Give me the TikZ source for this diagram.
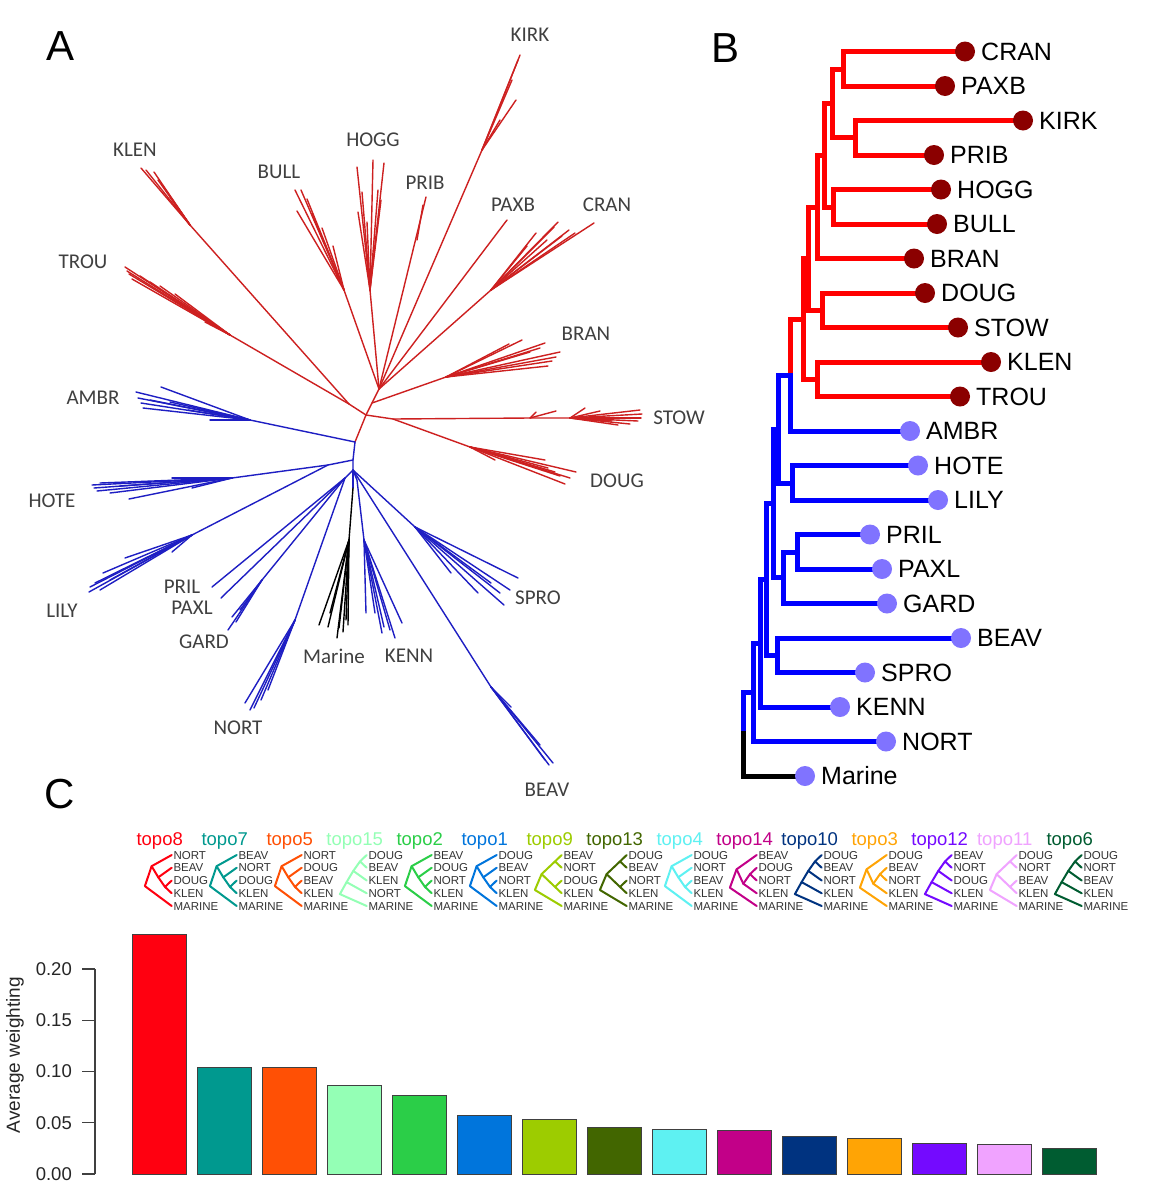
\documentclass[tikz,border=0pt]{standalone}
\usepackage{fontspec}
\usetikzlibrary{calc}
\setmainfont{Liberation Sans}
\newfontfamily\calib{Carlito}
\definecolor{ared}{RGB}{205,32,32}
\definecolor{ablue}{RGB}{30,30,195}
\definecolor{bred}{RGB}{255,0,0}
\definecolor{bblue}{RGB}{0,0,255}
\definecolor{dotred}{RGB}{139,0,0}
\definecolor{dotblue}{RGB}{128,115,255}
\definecolor{tp8}{RGB}{255,0,16}
\definecolor{tp7}{RGB}{0,153,143}
\definecolor{tp5}{RGB}{255,80,5}
\definecolor{tp15}{RGB}{148,255,181}
\definecolor{tp2}{RGB}{43,206,72}
\definecolor{tp1}{RGB}{0,117,220}
\definecolor{tp9}{RGB}{157,204,0}
\definecolor{tp13}{RGB}{66,102,0}
\definecolor{tp4}{RGB}{94,241,242}
\definecolor{tp14}{RGB}{194,0,136}
\definecolor{tp10}{RGB}{0,51,128}
\definecolor{tp3}{RGB}{255,164,5}
\definecolor{tp12}{RGB}{116,10,255}
\definecolor{tp11}{RGB}{240,163,255}
\definecolor{tp6}{RGB}{0,92,49}
\tikzset{
  ar/.style={draw=ared, line width=1.4pt, line cap=round},
  ab/.style={draw=ablue, line width=1.4pt, line cap=round},
  ak/.style={draw=black, line width=1.4pt, line cap=round},
  alab/.style={font=\calib\fontsize{21}{25}\selectfont, text=black!75, inner sep=0pt},
  panel/.style={font=\fontsize{42}{46}\selectfont, inner sep=0pt},
  bw/.style={line width=5pt, line cap=rect},
  blab/.style={font=\fontsize{25}{30}\selectfont, inner sep=0pt, anchor=west},
  rdot/.style={circle, fill=dotred, inner sep=0pt, minimum size=20pt},
  pdot/.style={circle, fill=dotblue, inner sep=0pt, minimum size=20pt},
  mt/.style={line width=2pt, line cap=round, line join=round},
  mtl/.style={font=\fontsize{11.5}{13}\selectfont, text=black!80, anchor=base west, inner sep=0pt},
  mtitle/.style={font=\fontsize{18.5}{22}\selectfont, anchor=base, inner sep=0pt},
  barst/.style={draw=black!75, line width=1pt},
  axl/.style={font=\fontsize{18.5}{22}\selectfont, text=black!85, anchor=east, inner sep=0pt}
}
% mini tree shapes (tips at x=12, y=855,867.75,880.5,893.25, MARINE 906)
\newcommand\shA{% (((1,2),3),4)
\draw[mt] (12,906) -- (-14.8,894.1) -- (-8.1,882.1) -- (-1.4,870.9) -- (5.3,861.4) -- (12,855);
\draw[mt] (-8.1,882.1) -- (12,893.25);
\draw[mt] (-1.4,870.9) -- (12,880.5);
\draw[mt] (5.3,861.4) -- (12,867.75);}
\newcommand\shC{% (1,((2,3),4))
\draw[mt] (12,906) -- (-14.8,887.7) -- (-8.1,869.3) -- (12,855);
\draw[mt] (-8.1,869.3) -- (-1.4,883.7) -- (12,893.25);
\draw[mt] (-1.4,883.7) -- (5.3,874.1) -- (12,867.75);
\draw[mt] (5.3,874.1) -- (12,880.5);}
\newcommand\shD{% (1,(2,(3,4)))
\draw[mt] (12,906) -- (-14.8,886.1) -- (-8.1,866.2) -- (12,855);
\draw[mt] (-8.1,866.2) -- (-1.4,877.3) -- (12,867.75);
\draw[mt] (-1.4,877.3) -- (5.3,886.9) -- (12,880.5);
\draw[mt] (5.3,886.9) -- (12,893.25);}
\newcommand\shE{% ((1,2),(3,4))
\draw[mt] (12,906) -- (-14.8,890) -- (-8.1,874.1) -- (5.3,861.4) -- (12,855);
\draw[mt] (5.3,861.4) -- (12,867.75);
\draw[mt] (-8.1,874.1) -- (5.3,886.9) -- (12,880.5);
\draw[mt] (5.3,886.9) -- (12,893.25);}
\newcommand\mtree[8]{%
\begin{scope}[shift={({159.7+65*#1},0)}, color=#2]
\node[mtitle, text=#2] (tt#1) at (0,845.5) {#8};
#3
\node[mtl] (la#1) at (13.6,859) {#4};
\node[mtl] (lb#1) at (13.6,871.75) {#5};
\node[mtl] (lc#1) at (13.6,884.5) {#6};
\node[mtl] (ld#1) at (13.6,897.25) {#7};
\node[mtl] (le#1) at (13.6,910) {MARINE};
\end{scope}}
\begin{document}
\begin{tikzpicture}[x=1pt,y=-1pt]
\useasboundingbox[fill=white] (0,0) rectangle (1158,1200);
% panel letters
\node[panel] (pA) at (61,46) {A};
\node[panel] (pB) at (725,48) {B};
\node[panel] (pC) at (60,794) {C};

% ================= Panel A =================
\coordinate (Rc) at (366,415);
\coordinate (H) at (379,389);
\coordinate (J) at (355,442);
\coordinate (Kb) at (349,404);
\coordinate (Rm) at (372,403);
\draw[ar] (J) -- (Rc) -- (H);
\draw[ar] (Rc) -- (Kb);
% KLEN
\coordinate (Kl1) at (190,225);
\draw[ar] (Kb) -- (Kl1);
\foreach \p in {(141,168),(146,170),(154,172),(158,180),(163,186),(170,197),(178,208)} \draw[ar] (Kl1) -- \p;
% TROU
\coordinate (Tr1) at (230,335);
\draw[ar] (Kb) -- (Tr1);
\foreach \p in {(125,267),(127,271),(129,274),(132,279),(140,276),(150,282),(160,286),(175,294),(195,312),(205,322)} \draw[ar] (Tr1) -- \p;
% BULL
\coordinate (Bu1) at (344,290);
\draw[ar] (H) -- (Bu1);
\foreach \p in {(295,190),(301,190),(307,199),(297,211),(312,214),(322,228),(333,246)} \draw[ar] (Bu1) -- \p;
% HOGG
\coordinate (Ho1) at (370,290);
\draw[ar] (H) -- (Ho1);
\foreach \p in {(357,167),(362,192),(373,160),(378,190),(384,163),(358,212),(367,222),(381,200)} \draw[ar] (Ho1) -- \p;
% PRIB
\coordinate (Pb1) at (426,197);
\draw[ar] (H) -- (Pb1);
\draw[ar] (417,240) -- (423,205);
% KIRK
\coordinate (Ki1) at (482,150);
\draw[ar] (H) -- (Ki1);
\foreach \p in {(520,55),(518,60),(516,100),(512,80),(500,120)} \draw[ar] (Ki1) -- \p;
% PAXB
\coordinate (Px1) at (507,220);
\draw[ar] (H) -- (Px1);
% CRAN
\coordinate (Cr1) at (491,290);
\draw[ar] (H) -- (Cr1);
\foreach \p in {(594,223),(558,222),(569,230),(554,227),(536,233),(547,240),(527,246),(562,236),(575,233)} \draw[ar] (Cr1) -- \p;
% BRAN
\coordinate (Br1) at (446,377);
\draw[ar] (Rm) -- (Br1);
\foreach \p in {(560,352),(556,357),(552,361),(545,343),(522,340),(509,344),(540,348),(548,366),(530,352)} \draw[ar] (Br1) -- \p;
% STOW
\coordinate (Sd) at (393,419);
\coordinate (St1) at (530,418);
\coordinate (St2) at (570,418);
\draw[ar] (Rc) -- (Sd) -- (St1) -- (St2);
\draw[ar] (St1) -- (536,412);
\draw[ar] (St1) -- (556,411);
\foreach \p in {(640,410),(642,414),(641,418),(638,421),(630,424),(618,425),(585,408),(600,411),(612,421)} \draw[ar] (St2) -- \p;
% DOUG
\coordinate (Do1) at (470,447);
\draw[ar] (Sd) -- (Do1);
\foreach \p in {(576,472),(570,478),(565,484),(560,476),(545,460),(495,460),(548,468),(555,472)} \draw[ar] (Do1) -- \p;

% blue
\coordinate (B1) at (353,460);
\coordinate (B2) at (353,470);
\draw[ab] (J) -- (B1) -- (B2);
% AMBR
\coordinate (Am1) at (250,420);
\draw[ab] (J) -- (Am1);
\foreach \p in {(136,392),(138,398),(141,403),(143,408),(161,387),(210,420),(188,410),(150,400),(170,402)} \draw[ab] (Am1) -- \p;
% HOTE / LILY
\coordinate (HL) at (328,465);
\coordinate (Ht1) at (232,478);
\coordinate (Li1) at (192,535);
\draw[ab] (B1) -- (HL) -- (Ht1);
\draw[ab] (HL) -- (Li1);
\foreach \p in {(92,485),(94,488),(97,491),(129,499),(172,478),(192,488),(110,493),(100,483),(120,486)} \draw[ab] (Ht1) -- \p;
\foreach \p in {(89,592),(90,587),(103,573),(125,558),(172,552),(95,583),(110,580),(100,590)} \draw[ab] (Li1) -- \p;
% PRIL PAXL GARD NORT
\coordinate (Pg) at (345,478);
\draw[ab] (B2) -- (Pg);
\draw[ab] (Pg) -- (212,587);
\draw[ab] (Pg) -- (221,598);
\coordinate (Ga1) at (262,580);
\draw[ab] (Pg) -- (Ga1);
\foreach \p in {(228,630),(232,617),(236,622),(240,610)} \draw[ab] (Ga1) -- \p;
\coordinate (No1) at (295,620);
\draw[ab] (Pg) -- (No1);
\foreach \p in {(245,703),(250,710),(254,708),(261,700),(268,690),(281,652)} \draw[ab] (No1) -- \p;
% Marine
\coordinate (Mb) at (353,488);
\coordinate (Mb1) at (349,540);
\draw[ab] (B2) -- (Mb);
\draw[ak] (Mb) -- (Mb1);
\foreach \p in {(319,625),(328,627),(337,638),(339,628),(346,620),(348,625),(330,613),(343,632)} \draw[ak] (Mb1) -- \p;
% KENN
\coordinate (Ke0) at (357,480);
\coordinate (Ke1) at (364,540);
\draw[ab] (B2) -- (Ke0) -- (Ke1);
\foreach \p in {(366,613),(375,613),(382,633),(384,627),(395,638),(402,623),(390,630)} \draw[ab] (Ke1) -- \p;
% SPRO
\coordinate (Sp1) at (415,527);
\draw[ab] (B2) -- (Sp1);
\foreach \p in {(518,578),(504,605),(500,593),(491,583),(451,573),(478,593),(510,590)} \draw[ab] (Sp1) -- \p;
% BEAV
\coordinate (Be1) at (491,687);
\draw[ab] (B2) -- (Be1);
\foreach \p in {(549,765),(553,763),(545,760),(540,745),(511,707)} \draw[ab] (Be1) -- \p;
% labels A
\node[alab] (aKIRK) at (530,35) {KIRK};
\node[alab] (aKLEN) at (135,150) {KLEN};
\node[alab] (aHOGG) at (373,140) {HOGG};
\node[alab] (aBULL) at (279,172) {BULL};
\node[alab] (aPRIB) at (425,183) {PRIB};
\node[alab] (aPAXB) at (513,205) {PAXB};
\node[alab] (aCRAN) at (607,205) {CRAN};
\node[alab] (aTROU) at (83,262) {TROU};
\node[alab] (aBRAN) at (586,334) {BRAN};
\node[alab] (aAMBR) at (93,398) {AMBR};
\node[alab] (aSTOW) at (679,418) {STOW};
\node[alab] (aDOUG) at (617,481) {DOUG};
\node[alab] (aHOTE) at (52,501) {HOTE};
\node[alab] (aLILY) at (62,611) {LILY};
\node[alab] (aPRIL) at (182,587) {PRIL};
\node[alab] (aPAXL) at (192,607.5) {PAXL};
\node[alab] (aGARD) at (204,642) {GARD};
\node[alab] (aSPRO) at (538,598) {SPRO};
\node[alab] (aMar) at (334,656) {Marine};
\node[alab] (aKENN) at (409,656) {KENN};
\node[alab] (aNORT) at (238,728) {NORT};
\node[alab] (aBEAV) at (547,790) {BEAV};

% ================= Panel B =================
\coordinate (a) at (843,69);
\coordinate (b) at (855,137.5);
\coordinate (c) at (832,103);
\coordinate (d) at (833,207);
\coordinate (e) at (824,155);
\coordinate (f) at (817,207);
\coordinate (g) at (822,310);
\coordinate (h) at (808,258.5);
\coordinate (i) at (817,379);
\coordinate (j) at (803,319);
\coordinate (k) at (790,375);
\coordinate (m) at (792,483);
\coordinate (l) at (778,429);
\coordinate (p) at (797,552);
\coordinate (o) at (783,577);
\coordinate (n) at (773,503);
\coordinate (r) at (777,655);
\coordinate (q) at (766,579);
\coordinate (s) at (760,643);
\coordinate (t) at (753,692);
\coordinate (u) at (743,733.5);
% tip positions
\coordinate (cCRAN) at (965,51.5);
\coordinate (cPAXB) at (945,86);
\coordinate (cKIRK) at (1023,120.5);
\coordinate (cPRIB) at (934,155);
\coordinate (cHOGG) at (941,189.5);
\coordinate (cBULL) at (937,224);
\coordinate (cBRAN) at (914,258.5);
\coordinate (cDOUG) at (925,293);
\coordinate (cSTOW) at (958,327.5);
\coordinate (cKLEN) at (991,362);
\coordinate (cTROU) at (960,396.5);
\coordinate (cAMBR) at (910,431);
\coordinate (cHOTE) at (918,465.5);
\coordinate (cLILY) at (938,500);
\coordinate (cPRIL) at (870,534.5);
\coordinate (cPAXL) at (882,569);
\coordinate (cGARD) at (887,603.5);
\coordinate (cBEAV) at (961,638);
\coordinate (cSPRO) at (865,672.5);
\coordinate (cKENN) at (840,707);
\coordinate (cNORT) at (886,741.5);
\coordinate (cMar) at (805,776);
% red edges
\foreach \pa/\ch in {a/cCRAN,a/cPAXB,b/cKIRK,b/cPRIB,c/a,c/b,d/cHOGG,d/cBULL,e/c,e/d,f/e,f/cBRAN,g/cDOUG,g/cSTOW,h/f,h/g,i/cKLEN,i/cTROU,j/h,j/i,k/j}
  \draw[bw, bred] (\pa) |- (\ch);
% blue edges
\foreach \pa/\ch in {k/cAMBR,l/k,l/m,m/cHOTE,m/cLILY,n/l,n/o,o/p,o/cGARD,p/cPRIL,p/cPAXL,q/n,q/r,r/cBEAV,r/cSPRO,s/q,s/cKENN,t/s,t/cNORT,u/t}
  \draw[bw, bblue] (\pa) |- (\ch);
\draw[bw, black] (u) |- (cMar);
% dots and labels
\foreach \nm in {CRAN,PAXB,KIRK,PRIB,HOGG,BULL,BRAN,DOUG,STOW,KLEN,TROU} {
  \node[rdot] (b\nm) at (c\nm) {};
  \node[blab] (l\nm) at ($(c\nm)+(16,0)$) {\nm};
}
\foreach \nm in {AMBR,HOTE,LILY,PRIL,PAXL,GARD,BEAV,SPRO,KENN,NORT} {
  \node[pdot] (b\nm) at (c\nm) {};
  \node[blab] (l\nm) at ($(c\nm)+(16,0)$) {\nm};
}
\node[pdot] (bMar) at (cMar) {};
\node[blab] (lMar) at ($(cMar)+(16,0)$) {Marine};

% ================= Panel C =================
\mtree{0}{tp8}{\shD}{NORT}{BEAV}{DOUG}{KLEN}{topo8}
\mtree{1}{tp7}{\shD}{BEAV}{NORT}{DOUG}{KLEN}{topo7}
\mtree{2}{tp5}{\shD}{NORT}{DOUG}{BEAV}{KLEN}{topo5}
\mtree{3}{tp15}{\shA}{DOUG}{BEAV}{KLEN}{NORT}{topo15}
\mtree{4}{tp2}{\shD}{BEAV}{DOUG}{NORT}{KLEN}{topo2}
\mtree{5}{tp1}{\shD}{DOUG}{BEAV}{NORT}{KLEN}{topo1}
\mtree{6}{tp9}{\shE}{BEAV}{NORT}{DOUG}{KLEN}{topo9}
\mtree{7}{tp13}{\shE}{DOUG}{BEAV}{NORT}{KLEN}{topo13}
\mtree{8}{tp4}{\shD}{DOUG}{NORT}{BEAV}{KLEN}{topo4}
\mtree{9}{tp14}{\shC}{BEAV}{DOUG}{NORT}{KLEN}{topo14}
\mtree{10}{tp10}{\shA}{DOUG}{BEAV}{NORT}{KLEN}{topo10}
\mtree{11}{tp3}{\shC}{DOUG}{BEAV}{NORT}{KLEN}{topo3}
\mtree{12}{tp12}{\shA}{BEAV}{NORT}{DOUG}{KLEN}{topo12}
\mtree{13}{tp11}{\shE}{DOUG}{NORT}{BEAV}{KLEN}{topo11}
\mtree{14}{tp6}{\shA}{DOUG}{NORT}{BEAV}{KLEN}{topo6}
% bars
\foreach \i/\tp/\c in {0/934/tp8,1/1067/tp7,2/1067.7/tp5,3/1085.7/tp15,4/1095.7/tp2,5/1115/tp1,6/1119.3/tp9,7/1127/tp13,8/1129/tp4,9/1130.7/tp14,10/1136/tp10,11/1138.7/tp3,12/1143.7/tp12,13/1144/tp11,14/1148.3/tp6}
  \draw[barst, fill=\c] ({132.7+65*\i},1174) rectangle ({186.7+65*\i},\tp);
% axis
\draw[black!75, line width=1.2pt] (95,969) -- (95,1174);
\foreach \v/\yy in {0.00/1174,0.05/1122.75,0.10/1071.5,0.15/1020.25,0.20/969} {
  \draw[black!75, line width=1.2pt] (82,\yy) -- (95,\yy);
  \node[axl] at (72,\yy) {\v};
}
\node[font=\fontsize{19}{22}\selectfont, text=black!85, rotate=90, inner sep=0pt] (ytitle) at (15,1055) {Average weighting};
\end{tikzpicture}
\end{document}
